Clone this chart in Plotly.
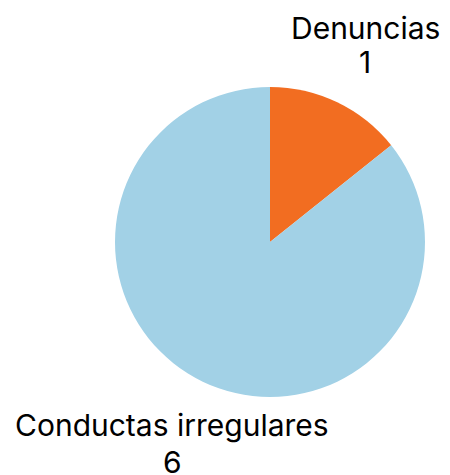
import plotly.graph_objects as go

labels = ["Denuncias", "Conductas irregulares"]
values = [1, 6]
colors = ["#F26D21", "#A2D1E6"]

W, H = 450, 475
# label anchor positions in pixels (centre of label line, centre of value line)
label_pos = [(365, 28, 62), (172, 425, 462)]

fig = go.Figure(go.Pie(
    labels=labels,
    values=values,
    sort=False,
    direction="clockwise",
    rotation=0,
    marker=dict(colors=colors, line=dict(width=0)),
    textinfo="none",
    showlegend=False,
    hoverinfo="label+value",
    domain=dict(x=[(270 - 155) / W, (270 + 155) / W],
                y=[(H - 242 - 155) / H, (H - 242 + 155) / H]),
))

font = dict(family="Inter", size=30, color="#000000")
for lab, val, (px, py1, py2) in zip(labels, values, label_pos):
    fig.add_annotation(text=lab, x=px / W, y=1 - py1 / H, xref="paper", yref="paper",
                       xanchor="center", yanchor="middle", showarrow=False, font=font)
    fig.add_annotation(text=str(val), x=px / W, y=1 - py2 / H, xref="paper", yref="paper",
                       xanchor="center", yanchor="middle", showarrow=False, font=font)

fig.update_layout(
    width=W,
    height=H,
    margin=dict(l=0, r=0, t=0, b=0),
    paper_bgcolor="white",
    plot_bgcolor="white",
)

fig.write_html(
    "out.html",
    config={"displayModeBar": False},
    post_script="document.body.style.margin='0';document.body.style.overflow='hidden';",
)
